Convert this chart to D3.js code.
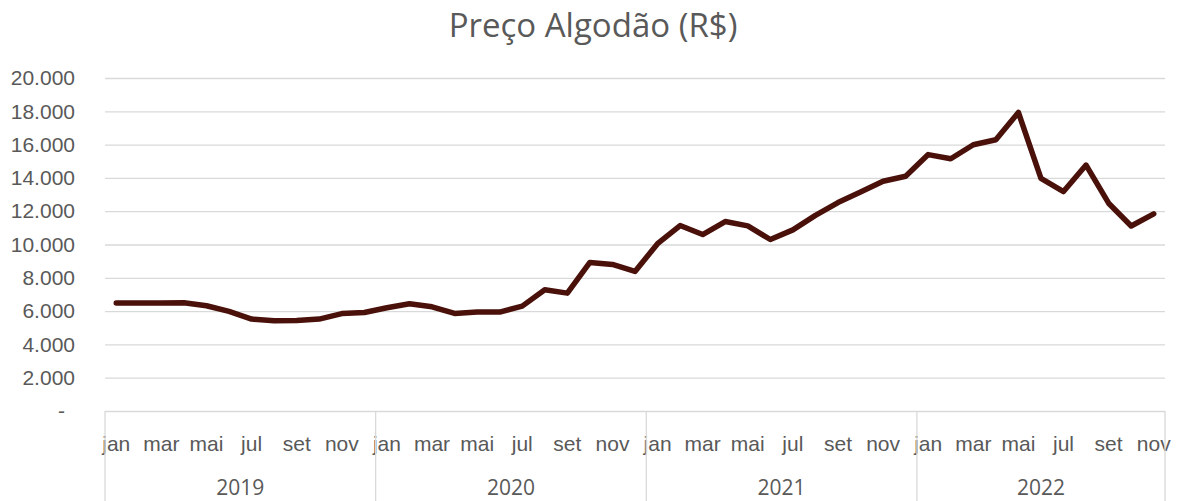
<!DOCTYPE html>
<html>
<head>
<meta charset="utf-8">
<script src="https://cdn.jsdelivr.net/npm/d3@7"></script>
<style>
  body { margin: 0; background: #fff; }
  svg { display: block; font-family: "Open Sans", sans-serif; }
</style>
</head>
<body>
<div id="chart"></div>
<script>
const years = ["2019", "2020", "2021", "2022"];
const monthNames = ["jan", "fev", "mar", "abr", "mai", "jun", "jul", "ago", "set", "out", "nov", "dez"];
const values = [
  6490, 6480, 6480, 6500, 6320, 5980, 5520, 5420, 5440, 5520, 5850, 5920,
  6200, 6440, 6260, 5860, 5940, 5940, 6300, 7280, 7080, 8920, 8800, 8380,
  10050, 11140, 10600, 11380, 11120, 10300, 10880, 11750, 12520, 13150, 13800, 14100,
  15400, 15150, 15990, 16290, 17930, 13970, 13180, 14770, 12480, 11110, 11840
];
const yTicks = [0, 2000, 4000, 6000, 8000, 10000, 12000, 14000, 16000, 18000, 20000];

const data = values.map((v, i) => ({
  key: i,
  year: years[Math.floor(i / 12)],
  month: monthNames[i % 12],
  value: v
}));

const width = 1178, height = 501;
const plotLeft = 105, plotRight = 1165, plotTop = 78, plotBottom = 411;
const axisFont = "21px";

const svg = d3.select("#chart").append("svg")
  .attr("width", width).attr("height", height);

const x = d3.scaleBand().domain(data.map(d => d.key)).range([plotLeft, plotRight]);
const y = d3.scaleLinear().domain([0, 20000]).range([plotBottom, plotTop]);

const fmt = v => v === 0 ? "-" : d3.format(",")(v).replace(/,/g, ".");

// gridlines + y labels
const yAxis = d3.axisLeft(y).tickValues(yTicks).tickSize(-(plotRight - plotLeft)).tickFormat(fmt);
const gy = svg.append("g").attr("transform", `translate(${plotLeft},0)`).call(yAxis);
gy.select(".domain").remove();
gy.selectAll(".tick line").attr("stroke", "#d9d9d9").attr("stroke-width", 1.3);
gy.selectAll(".tick text")
  .attr("x", -30)
  .attr("fill", "#595959")
  .style("font-size", axisFont);
gy.selectAll(".tick").filter(d => d === 0).select("text").attr("x", -40);

// month labels
const xAxis = d3.axisBottom(x)
  .tickValues(data.filter((d, i) => i % 2 === 0).map(d => d.key))
  .tickSize(0)
  .tickFormat(k => data[k].month);
const gx = svg.append("g").attr("transform", `translate(0,${plotBottom})`).call(xAxis);
gx.select(".domain").remove();
gx.selectAll(".tick text")
  .attr("y", 40)
  .attr("dy", 0)
  .attr("fill", "#595959")
  .style("font-size", axisFont);

// year separators
const bounds = years.map((yr, j) => x(j * 12)).concat([plotRight]);
svg.append("g").selectAll("line").data(bounds).join("line")
  .attr("x1", d => d).attr("x2", d => d)
  .attr("y1", plotBottom).attr("y2", height)
  .attr("stroke", "#d9d9d9").attr("stroke-width", 1.3);

svg.append("g").selectAll("text").data(years).join("text")
  .attr("x", (d, j) => (bounds[j] + bounds[j + 1]) / 2)
  .attr("y", 495)
  .attr("text-anchor", "middle")
  .attr("fill", "#595959")
  .style("font-size", axisFont)
  .text(d => d);

// line
const line = d3.line()
  .x(d => x(d.key) + x.bandwidth() / 2)
  .y(d => y(d.value));

svg.append("path")
  .datum(data)
  .attr("fill", "none")
  .attr("stroke", "#4a110b")
  .attr("stroke-width", 5.5)
  .attr("stroke-linejoin", "round")
  .attr("stroke-linecap", "round")
  .attr("d", line);

// title
svg.append("text")
  .attr("x", 593)
  .attr("y", 37)
  .attr("text-anchor", "middle")
  .attr("fill", "#595959")
  .style("font-size", "33px")
  .text("Preço Algodão (R$)");
</script>
</body>
</html>
